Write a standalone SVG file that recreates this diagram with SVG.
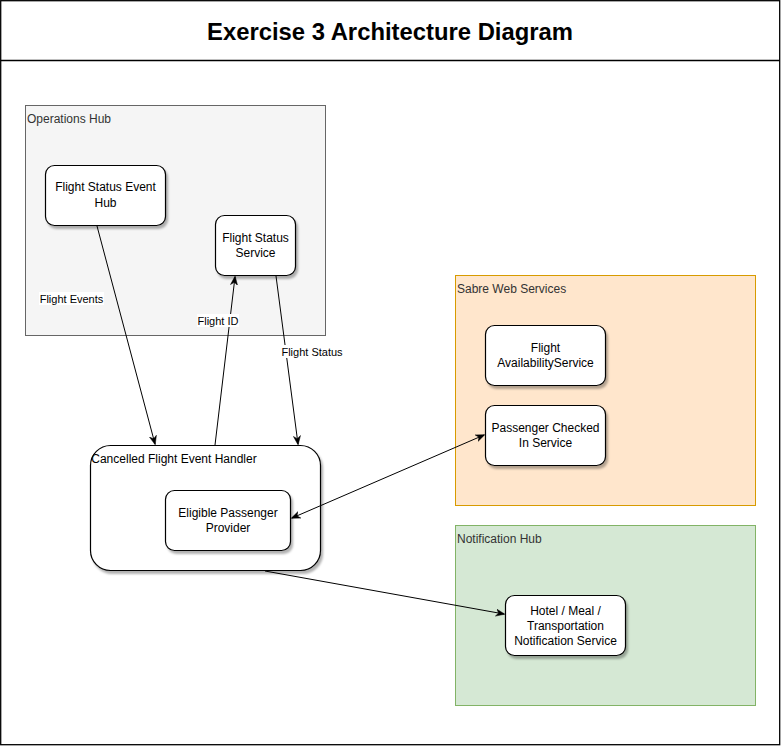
<svg xmlns="http://www.w3.org/2000/svg" width="781" height="746" viewBox="0 0 781 746">
<style>
.frame{fill:#fff;stroke:#000;stroke-width:1.3}
.title{font-family:"Liberation Sans",Arial,sans-serif;font-size:23px;font-weight:bold;text-anchor:middle;fill:#000}
.grp text{font-family:"Liberation Sans",Arial,sans-serif;font-size:12px;fill:#333}
.node rect{fill:#fff;stroke:#000;stroke-width:1.2;filter:url(#sh)}
.node text{font-family:"Liberation Sans",Arial,sans-serif;font-size:12px;fill:#000;text-anchor:middle}
.edge{fill:none;stroke:#000;stroke-width:1}
.lbl{font-family:"Liberation Sans",Arial,sans-serif;font-size:11px;fill:#000;text-anchor:middle}
.lblbg{fill:#fff}
</style>
<defs>
<filter id="sh" x="-20%" y="-20%" width="150%" height="150%">
<feDropShadow dx="2" dy="3" stdDeviation="1.2" flood-color="#000" flood-opacity="0.3"/>
</filter>
<marker id="arr" viewBox="0 0 10 10" refX="9" refY="5" markerWidth="9" markerHeight="9" orient="auto-start-reverse" markerUnits="userSpaceOnUse">
<path d="M0,1 L10,5 L0,9 L3,5 Z" fill="#000" stroke="#000" stroke-width="0.5"/>
</marker>
</defs>
<rect x="0" y="0" width="781" height="746" fill="#fff"/>
<g id="frame">
<rect class="frame" x="0.7" y="0.7" width="779" height="744"/>
<line x1="0.7" y1="60.5" x2="780" y2="60.5" stroke="#000" stroke-width="1.3"/>
<text class="title" x="390" y="40" textLength="366" lengthAdjust="spacingAndGlyphs">Exercise 3 Architecture Diagram</text>
</g>
<g id="operations-hub" class="grp">
<rect x="25.5" y="105.5" width="300" height="230" fill="#f5f5f5" stroke="#666"/>
<text x="27" y="123">Operations Hub</text>
</g>
<g id="sabre-web-services" class="grp">
<rect x="455.5" y="275.5" width="300" height="230" fill="#ffe6cc" stroke="#d79b00"/>
<text x="457" y="293">Sabre Web Services</text>
</g>
<g id="notification-hub" class="grp">
<rect x="455.5" y="525.5" width="300" height="180" fill="#d5e8d4" stroke="#82b366"/>
<text x="457" y="543">Notification Hub</text>
</g>
<g id="flight-status-event-hub" class="node">
<rect x="45.5" y="165.5" width="120" height="60" rx="9"/>
<text x="105.5" y="191">Flight Status Event</text>
<text x="105.5" y="207">Hub</text>
</g>
<g id="flight-status-service" class="node">
<rect x="215.5" y="215.5" width="80" height="60" rx="9"/>
<text x="255.5" y="242">Flight Status</text>
<text x="255.5" y="257">Service</text>
</g>
<g id="cancelled-flight-event-handler" class="node">
<rect x="90.5" y="445.5" width="230" height="125" rx="20"/>
<text x="174" y="463">Cancelled Flight Event Handler</text>
</g>
<g id="eligible-passenger-provider" class="node">
<rect x="165.5" y="490.5" width="125" height="60" rx="9"/>
<text x="228" y="517">Eligible Passenger</text>
<text x="228" y="532">Provider</text>
</g>
<g id="flight-availability-service" class="node">
<rect x="485.5" y="325.5" width="120" height="60" rx="9"/>
<text x="545.5" y="352">Flight</text>
<text x="545.5" y="367">AvailabilityService</text>
</g>
<g id="passenger-checked-in-service" class="node">
<rect x="485.5" y="405.5" width="120" height="60" rx="9"/>
<text x="545.5" y="432">Passenger Checked</text>
<text x="545.5" y="447">In Service</text>
</g>
<g id="hotel-meal-transportation-notification-service" class="node">
<rect x="505.5" y="595.5" width="120" height="60" rx="9"/>
<text x="565.5" y="615">Hotel / Meal /</text>
<text x="565.5" y="630">Transportation</text>
<text x="565.5" y="645">Notification Service</text>
</g>
<g id="connectors">
<line class="edge" x1="97" y1="226" x2="155" y2="444" marker-end="url(#arr)"/>
<rect class="lblbg" x="39" y="292" width="65" height="13"/>
<text class="lbl" x="71.5" y="303">Flight Events</text>
<line class="edge" x1="215" y1="445" x2="235" y2="277" marker-end="url(#arr)"/>
<rect class="lblbg" x="197" y="314" width="42" height="13"/>
<text class="lbl" x="218" y="325">Flight ID</text>
<line class="edge" x1="276" y1="276" x2="298" y2="444" marker-end="url(#arr)"/>
<rect class="lblbg" x="281" y="345" width="63" height="13"/>
<text class="lbl" x="312" y="356">Flight Status</text>
<line class="edge" x1="292" y1="518" x2="484" y2="435" marker-start="url(#arr)" marker-end="url(#arr)"/>
<line class="edge" x1="265" y1="571" x2="504" y2="614" marker-end="url(#arr)"/>
</g>
</svg>
